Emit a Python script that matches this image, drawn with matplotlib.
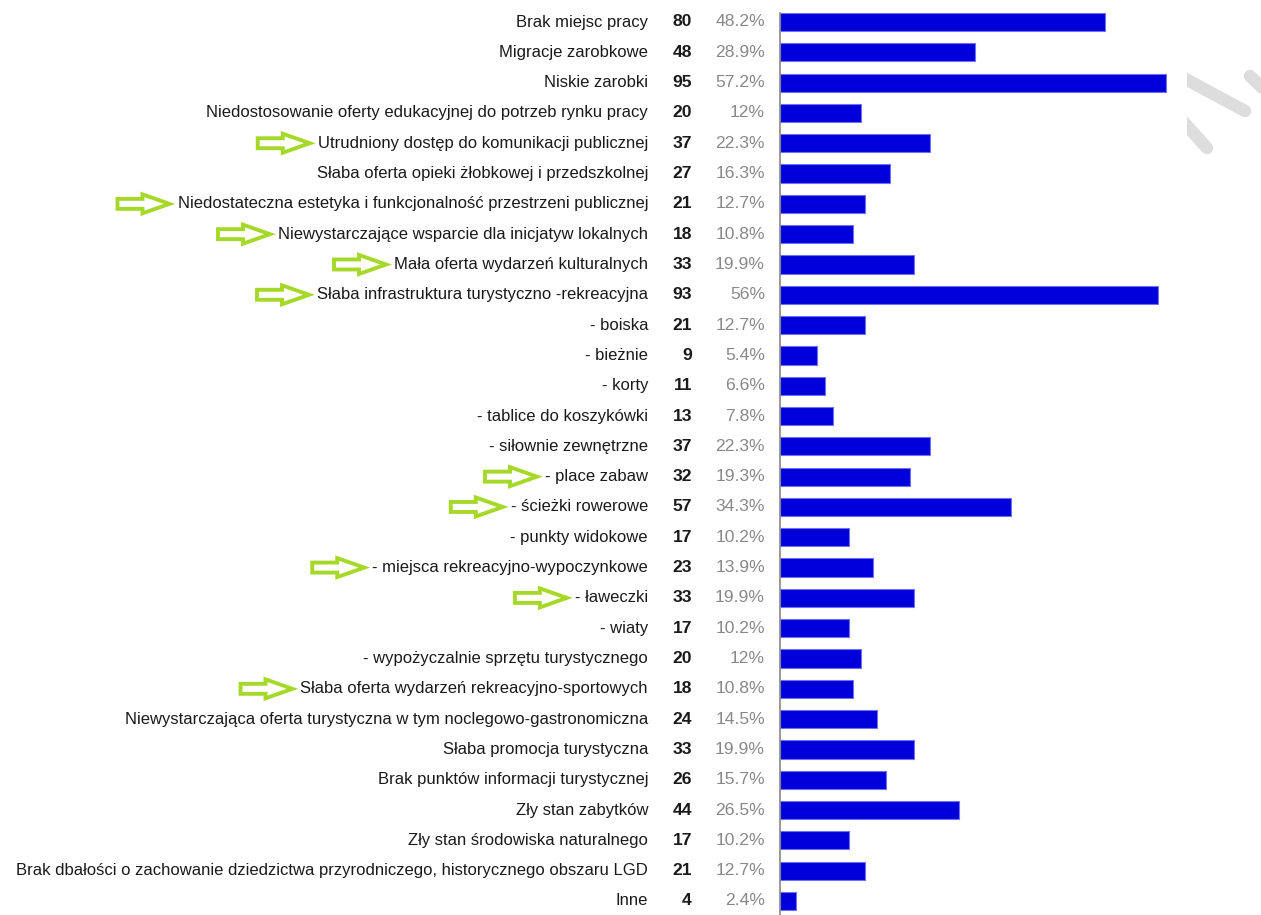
import matplotlib
matplotlib.use("Agg")
import matplotlib.pyplot as plt
from matplotlib.patches import Polygon
from matplotlib.lines import Line2D
from matplotlib.transforms import Bbox

categories = [
    "Brak miejsc pracy",
    "Migracje zarobkowe",
    "Niskie zarobki",
    "Niedostosowanie oferty edukacyjnej do potrzeb rynku pracy",
    "Utrudniony dostęp do komunikacji publicznej",
    "Słaba oferta opieki żłobkowej i przedszkolnej",
    "Niedostateczna estetyka i funkcjonalność przestrzeni publicznej",
    "Niewystarczające wsparcie dla inicjatyw lokalnych",
    "Mała oferta wydarzeń kulturalnych",
    "Słaba infrastruktura turystyczno -rekreacyjna",
    "- boiska",
    "- bieżnie",
    "- korty",
    "- tablice do koszykówki",
    "- siłownie zewnętrzne",
    "- place zabaw",
    "- ścieżki rowerowe",
    "- punkty widokowe",
    "- miejsca rekreacyjno-wypoczynkowe",
    "- ławeczki",
    "- wiaty",
    "- wypożyczalnie sprzętu turystycznego",
    "Słaba oferta wydarzeń rekreacyjno-sportowych",
    "Niewystarczająca oferta turystyczna w tym noclegowo-gastronomiczna",
    "Słaba promocja turystyczna",
    "Brak punktów informacji turystycznej",
    "Zły stan zabytków",
    "Zły stan środowiska naturalnego",
    "Brak dbałości o zachowanie dziedzictwa przyrodniczego, historycznego obszaru LGD",
    "Inne",
]
counts = [80, 48, 95, 20, 37, 27, 21, 18, 33, 93, 21, 9, 11, 13, 37, 32, 57, 17,
          23, 33, 17, 20, 18, 24, 33, 26, 44, 17, 21, 4]
percents = [48.2, 28.9, 57.2, 12, 22.3, 16.3, 12.7, 10.8, 19.9, 56, 12.7, 5.4, 6.6,
            7.8, 22.3, 19.3, 34.3, 10.2, 13.9, 19.9, 10.2, 12, 10.8, 14.5, 19.9,
            15.7, 26.5, 10.2, 12.7, 2.4]
arrow_rows = [4, 6, 7, 8, 9, 15, 16, 18, 19, 22]

W, H, DPI = 1261, 915, 100
fig = plt.figure(figsize=(W / DPI, H / DPI), dpi=DPI)
fig.patch.set_facecolor("white")

ax_left = 780
ax = fig.add_axes([ax_left / W, 0, (W - ax_left) / W, 1])
n = len(categories)
row0, step = 22, 30.31
ax.set_ylim((H - row0) / step, -row0 / step)
ax.set_xlim(0, (W - ax_left) / 4.06)

ypos = list(range(n))
ax.barh(ypos, counts, height=0.6, color="#0000dd", edgecolor="#7070ee", linewidth=0.8)

for s in ["top", "right", "bottom"]:
    ax.spines[s].set_visible(False)
ax.spines["left"].set_color("#888888")
ax.spines["left"].set_linewidth(1.2)
ax.spines["left"].set_bounds(-0.3, (H - row0) / step)
ax.set_xticks([])
ax.set_yticks([])
ax.patch.set_alpha(0)

tr = ax.get_yaxis_transform()
axw = W - ax_left
fam = ["Liberation Sans", "DejaVu Sans"]
label_texts = []
for i, (c, v, p) in enumerate(zip(categories, counts, percents)):
    t = ax.text((648 - ax_left) / axw, i, c, transform=tr, ha="right", va="center",
                fontsize=12, family=fam, color="#1a1a1a", clip_on=False)
    label_texts.append(t)
    ax.text((692 - ax_left) / axw, i, str(v), transform=tr, ha="right", va="center",
            fontsize=12.6, family=fam, color="#1a1a1a", fontweight="bold", clip_on=False)
    ax.text((765 - ax_left) / axw, i, f"{p:g}%", transform=tr, ha="right", va="center",
            fontsize=12.6, family=fam, color="#888888", clip_on=False)

fig.canvas.draw()
renderer = fig.canvas.get_renderer()
inv = fig.transFigure.inverted()

for r in arrow_rows:
    t = label_texts[r]
    bb = t.get_window_extent(renderer)
    tip_x = bb.x0 - 8
    yc = (bb.y0 + bb.y1) / 2
    L, HL, BH, HH = 52, 27, 10, 19
    x0 = tip_x - L
    xh = tip_x - HL
    pts = [(x0, yc - BH / 2), (xh, yc - BH / 2), (xh, yc - HH / 2), (tip_x, yc),
           (xh, yc + HH / 2), (xh, yc + BH / 2), (x0, yc + BH / 2)]
    pts = [inv.transform(pt) for pt in pts]
    poly = Polygon(pts, closed=True, facecolor="white", edgecolor="#a6d82a",
                   linewidth=2.8, joinstyle="miter", transform=fig.transFigure)
    fig.add_artist(poly)

# decorative grey strokes in the top-right corner
clip = Bbox([[1187, 0], [W, H]])
segs = [((1180, 76), (1245, 111)), ((1180, 118), (1207, 148)), ((1250, 76), (1275, 100))]
for (xa, ya), (xb, yb) in segs:
    pa = inv.transform((xa, H - ya))
    pb = inv.transform((xb, H - yb))
    ln = Line2D([pa[0], pb[0]], [pa[1], pb[1]], transform=fig.transFigure,
                color="#dddddd", linewidth=9, solid_capstyle="round")
    ln.set_clip_box(clip)
    fig.add_artist(ln)

fig.savefig("out.png", dpi=DPI, facecolor="white")
